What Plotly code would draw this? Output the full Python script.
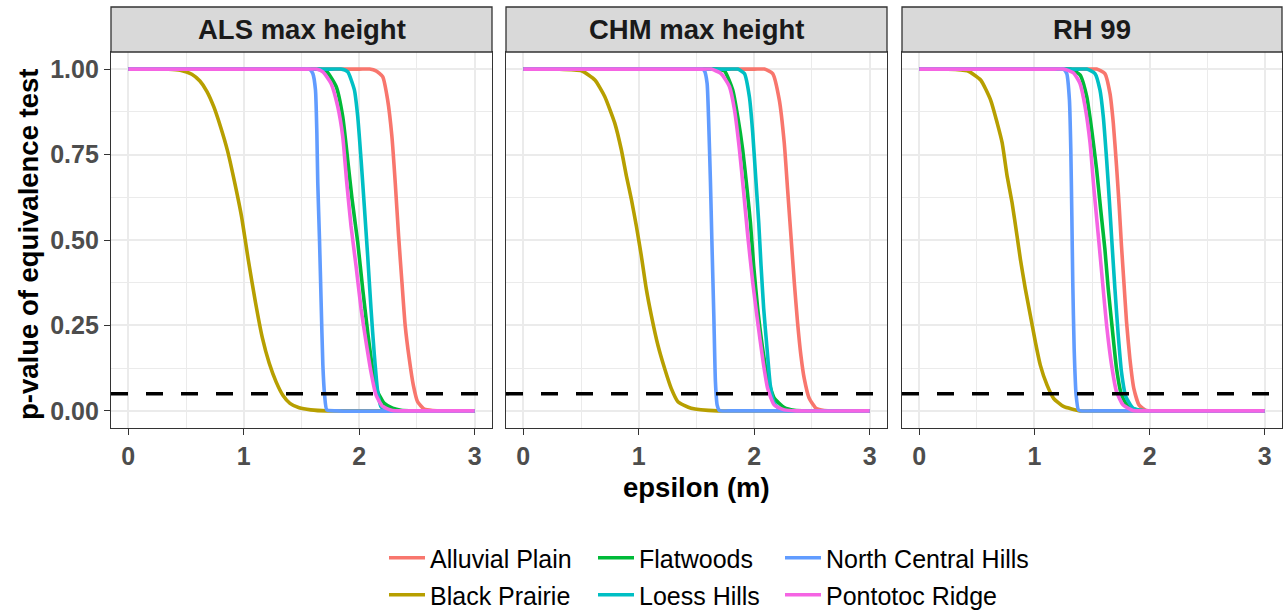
import plotly.graph_objects as go

# ---- panel names and region names -------------------------------------------
PANELS = ["ALS max height", "CHM max height", "RH 99"]
REGIONS = ["Alluvial Plain", "Black Prairie", "Flatwoods",
           "Loess Hills", "North Central Hills", "Pontotoc Ridge"]
COLORS = ["#F8766D", "#B79F00", "#00BA38", "#00BFC4", "#619CFF", "#F564E3"]

X_TICKS = [0, 1, 2, 3]
Y_TICKS = [0.0, 0.25, 0.5, 0.75, 1.0]
ALPHA = 0.05

# ---- ALS max height -----------------------------------------------------------
ALS_ALLUVIAL_EPS = [0, 2.0, 2.09, 2.145, 2.203, 2.246, 2.283, 2.312, 2.341, 2.37, 2.398, 2.433, 2.468, 2.505, 2.563, 2.635, 2.75, 3]
ALS_ALLUVIAL_P = [1, 1, 1, 0.995, 0.978, 0.91, 0.803, 0.667, 0.512, 0.376, 0.25, 0.153, 0.076, 0.027, 0.005, 0.001, 0, 0]
ALS_BLACK_EPS = [0, 0.25, 0.35, 0.45, 0.55, 0.62, 0.68, 0.74, 0.80, 0.86, 0.92, 0.98, 1.04, 1.10, 1.16, 1.22, 1.28, 1.34, 1.40, 1.48, 1.58, 1.72, 1.85, 3]
ALS_BLACK_P = [1, 1, 1, 0.997, 0.985, 0.965, 0.935, 0.89, 0.83, 0.76, 0.67, 0.57, 0.44, 0.32, 0.215, 0.14, 0.085, 0.045, 0.022, 0.009, 0.003, 0, 0, 0]
ALS_FLAT_EPS = [0, 1.56, 1.64, 1.713, 1.8, 1.857, 1.9, 1.938, 1.987, 2.03, 2.073, 2.116, 2.16, 2.217, 2.289, 2.361, 2.47, 3]
ALS_FLAT_P = [1, 1, 1, 0.995, 0.949, 0.861, 0.735, 0.619, 0.493, 0.357, 0.231, 0.124, 0.056, 0.022, 0.008, 0.002, 0, 0]
ALS_LOESS_EPS = [0, 1.76, 1.84, 1.9, 1.958, 1.987, 2.016, 2.044, 2.073, 2.102, 2.131, 2.16, 2.188, 2.232, 2.33, 3]
ALS_LOESS_P = [1, 1, 1, 0.992, 0.939, 0.861, 0.735, 0.599, 0.454, 0.299, 0.163, 0.056, 0.013, 0.001, 0, 0]
ALS_NCH_EPS = [0, 1.5, 1.57, 1.598, 1.621, 1.633, 1.641, 1.656, 1.67, 1.685, 1.70, 1.719, 1.8, 3]
ALS_NCH_P = [1, 1, 1, 0.987, 0.939, 0.813, 0.667, 0.5, 0.318, 0.134, 0.047, 0.003, 0, 0]
ALS_PONT_EPS = [0, 1.55, 1.63, 1.685, 1.756, 1.814, 1.857, 1.892, 1.929, 1.972, 2.016, 2.059, 2.102, 2.145, 2.203, 2.289, 2.39, 3]
ALS_PONT_P = [1, 1, 1, 0.992, 0.958, 0.89, 0.803, 0.667, 0.541, 0.425, 0.299, 0.202, 0.114, 0.047, 0.013, 0.001, 0, 0]

# ---- CHM max height -----------------------------------------------------------
CHM_ALLUVIAL_EPS = [0, 2.0, 2.088, 2.16, 2.217, 2.26, 2.289, 2.318, 2.347, 2.375, 2.404, 2.433, 2.476, 2.534, 2.606, 2.72, 3]
CHM_ALLUVIAL_P = [1, 1, 1, 0.987, 0.91, 0.784, 0.648, 0.512, 0.376, 0.26, 0.163, 0.095, 0.037, 0.008, 0.001, 0, 0]
CHM_BLACK_EPS = [0, 0.2, 0.3, 0.504, 0.62, 0.705, 0.792, 0.849, 0.893, 0.936, 0.979, 1.022, 1.065, 1.109, 1.166, 1.224, 1.281, 1.339, 1.454, 1.684, 1.8, 3]
CHM_BLACK_P = [1, 1, 1, 0.995, 0.968, 0.92, 0.842, 0.764, 0.687, 0.619, 0.541, 0.454, 0.357, 0.279, 0.192, 0.124, 0.066, 0.027, 0.008, 0, 0, 0]
CHM_FLAT_EPS = [0, 1.59, 1.67, 1.742, 1.814, 1.857, 1.9, 1.938, 1.967, 1.995, 2.03, 2.073, 2.116, 2.174, 2.26, 2.347, 2.45, 3]
CHM_FLAT_P = [1, 1, 1, 0.995, 0.939, 0.861, 0.764, 0.648, 0.551, 0.425, 0.299, 0.182, 0.095, 0.037, 0.01, 0.002, 0, 0]
CHM_LOESS_EPS = [0, 1.78, 1.857, 1.915, 1.958, 1.987, 2.016, 2.039, 2.059, 2.082, 2.111, 2.139, 2.174, 2.232, 2.33, 3]
CHM_LOESS_P = [1, 1, 1, 0.987, 0.919, 0.813, 0.667, 0.551, 0.425, 0.299, 0.182, 0.076, 0.022, 0.003, 0, 0]
CHM_NCH_EPS = [0, 1.48, 1.55, 1.569, 1.592, 1.604, 1.621, 1.633, 1.65, 1.664, 1.679, 1.699, 1.78, 3]
CHM_NCH_P = [1, 1, 1, 0.995, 0.958, 0.861, 0.667, 0.5, 0.279, 0.085, 0.017, 0.001, 0, 0]
CHM_PONT_EPS = [0, 1.55, 1.627, 1.713, 1.785, 1.829, 1.872, 1.909, 1.944, 1.987, 2.03, 2.073, 2.116, 2.174, 2.26, 2.36, 3]
CHM_PONT_P = [1, 1, 1, 0.987, 0.949, 0.881, 0.764, 0.638, 0.512, 0.376, 0.26, 0.153, 0.066, 0.017, 0.003, 0, 0]

# ---- RH 99 ----------------------------------------------------------------------
RH_ALLUVIAL_EPS = [0, 1.46, 1.54, 1.612, 1.656, 1.685, 1.713, 1.736, 1.756, 1.777, 1.8, 1.829, 1.863, 1.909, 1.972, 2.07, 3]
RH_ALLUVIAL_P = [1, 1, 1, 0.987, 0.929, 0.842, 0.716, 0.599, 0.483, 0.376, 0.26, 0.153, 0.066, 0.017, 0.001, 0, 0]
RH_BLACK_EPS = [0, 0.15, 0.245, 0.418, 0.533, 0.619, 0.677, 0.72, 0.763, 0.806, 0.849, 0.878, 0.921, 0.965, 1.008, 1.051, 1.109, 1.166, 1.252, 1.396, 1.5, 3]
RH_BLACK_P = [1, 1, 1, 0.995, 0.968, 0.91, 0.842, 0.784, 0.687, 0.609, 0.512, 0.444, 0.357, 0.279, 0.202, 0.134, 0.076, 0.037, 0.013, 0, 0, 0]
RH_FLAT_EPS = [0, 1.23, 1.31, 1.396, 1.454, 1.497, 1.54, 1.575, 1.612, 1.641, 1.679, 1.713, 1.756, 1.814, 1.915, 2.02, 3]
RH_FLAT_P = [1, 1, 1, 0.983, 0.92, 0.823, 0.706, 0.59, 0.473, 0.357, 0.231, 0.124, 0.047, 0.013, 0.001, 0, 0]
RH_LOESS_EPS = [0, 1.38, 1.454, 1.526, 1.569, 1.598, 1.627, 1.65, 1.673, 1.699, 1.728, 1.756, 1.794, 1.857, 1.944, 2.05, 3]
RH_LOESS_P = [1, 1, 1, 0.987, 0.939, 0.861, 0.735, 0.619, 0.493, 0.357, 0.221, 0.114, 0.042, 0.008, 0.001, 0, 0]
RH_NCH_EPS = [0, 1.18, 1.253, 1.281, 1.304, 1.316, 1.325, 1.333, 1.345, 1.362, 1.382, 1.411, 1.5, 3]
RH_NCH_P = [1, 1, 1, 0.987, 0.91, 0.764, 0.57, 0.376, 0.182, 0.047, 0.003, 0, 0, 0]
RH_PONT_EPS = [0, 1.17, 1.253, 1.339, 1.396, 1.44, 1.483, 1.517, 1.555, 1.592, 1.627, 1.67, 1.713, 1.771, 1.857, 1.96, 3]
RH_PONT_P = [1, 1, 1, 0.989, 0.958, 0.89, 0.784, 0.648, 0.512, 0.376, 0.25, 0.134, 0.056, 0.017, 0.001, 0, 0]

CURVES = [
    [(ALS_ALLUVIAL_EPS, ALS_ALLUVIAL_P), (ALS_BLACK_EPS, ALS_BLACK_P), (ALS_FLAT_EPS, ALS_FLAT_P),
     (ALS_LOESS_EPS, ALS_LOESS_P), (ALS_NCH_EPS, ALS_NCH_P), (ALS_PONT_EPS, ALS_PONT_P)],
    [(CHM_ALLUVIAL_EPS, CHM_ALLUVIAL_P), (CHM_BLACK_EPS, CHM_BLACK_P), (CHM_FLAT_EPS, CHM_FLAT_P),
     (CHM_LOESS_EPS, CHM_LOESS_P), (CHM_NCH_EPS, CHM_NCH_P), (CHM_PONT_EPS, CHM_PONT_P)],
    [(RH_ALLUVIAL_EPS, RH_ALLUVIAL_P), (RH_BLACK_EPS, RH_BLACK_P), (RH_FLAT_EPS, RH_FLAT_P),
     (RH_LOESS_EPS, RH_LOESS_P), (RH_NCH_EPS, RH_NCH_P), (RH_PONT_EPS, RH_PONT_P)],
]

# ---- layout geometry ----------------------------------------------------------
W, H = 1285, 613
ML, MR, MT, MB = 111, 3, 7, 185
PW = W - ML - MR
PH = H - MT - MB
DOMAINS = [(0.0, 381 / PW), (395 / PW, 776 / PW), (791 / PW, 1.0)]
PANEL_TOP = (428 - 52) / PH

FONT = "Liberation Sans, Arial, sans-serif"
GRID = "#EBEBEB"
BORDER = "#333333"

fig = go.Figure()

# legend slots: column-major order, 2 rows x 3 columns (pixel positions of the text start)
LEG_TEXT_X = [430, 430, 639, 639, 826, 826]
LEG_Y = [558, 595, 558, 595, 558, 595]
ITEM_W = 36
legend_names = ["legend"] + [f"legend{i}" for i in range(2, 7)]

for p_idx, panel in enumerate(CURVES):
    xa = "x" if p_idx == 0 else f"x{p_idx + 1}"
    ya = "y" if p_idx == 0 else f"y{p_idx + 1}"
    for r_idx, (eps, pv) in enumerate(panel):
        fig.add_trace(go.Scatter(
            x=eps, y=pv, mode="lines", name=REGIONS[r_idx],
            line=dict(color=COLORS[r_idx], width=3.6, shape="spline", smoothing=0.5),
            xaxis=xa, yaxis=ya, legendgroup=REGIONS[r_idx],
            legend=legend_names[r_idx], showlegend=(p_idx == 0),
            hovertemplate="%{x:.2f}, %{y:.3f}<extra>" + REGIONS[r_idx] + "</extra>",
        ))

layout = dict(
    width=W, height=H, autosize=False,
    margin=dict(l=ML, r=MR, t=MT, b=MB, autoexpand=False),
    paper_bgcolor="white", plot_bgcolor="white",
    font=dict(family=FONT),
    shapes=[], annotations=[],
)

for p_idx in range(3):
    xk = "xaxis" if p_idx == 0 else f"xaxis{p_idx + 1}"
    yk = "yaxis" if p_idx == 0 else f"yaxis{p_idx + 1}"
    anchor_y = "y" if p_idx == 0 else f"y{p_idx + 1}"
    anchor_x = "x" if p_idx == 0 else f"x{p_idx + 1}"
    layout[xk] = dict(
        domain=list(DOMAINS[p_idx]), anchor=anchor_y, range=[-0.15, 3.15],
        tickmode="array", tickvals=X_TICKS, ticktext=[str(t) for t in X_TICKS],
        ticks="outside", ticklen=6, tickwidth=1.3, tickcolor=BORDER,
        tickfont=dict(size=25, color="#4D4D4D", family=FONT, weight="bold"),
        showgrid=True, gridcolor=GRID, gridwidth=1.6,
        minor=dict(tickmode="array", tickvals=[0.5, 1.5, 2.5], showgrid=True,
                   gridcolor=GRID, gridwidth=0.8, ticks=""),
        showline=True, linecolor=BORDER, linewidth=1.3, mirror=True,
        zeroline=False, fixedrange=True,
    )
    layout[yk] = dict(
        domain=[0, PANEL_TOP], anchor=anchor_x, range=[-0.05, 1.05],
        tickmode="array", tickvals=Y_TICKS, ticktext=[f"{t:.2f}" for t in Y_TICKS],
        ticks="outside" if p_idx == 0 else "", ticklen=6, tickwidth=1.3, tickcolor=BORDER,
        showticklabels=(p_idx == 0),
        tickfont=dict(size=25, color="#4D4D4D", family=FONT, weight="bold"),
        showgrid=True, gridcolor=GRID, gridwidth=1.6,
        minor=dict(tickmode="array", tickvals=[0.125, 0.375, 0.625, 0.875], showgrid=True,
                   gridcolor=GRID, gridwidth=0.8, ticks=""),
        showline=True, linecolor=BORDER, linewidth=1.3, mirror=True,
        zeroline=False, fixedrange=True,
    )
    if p_idx > 0:
        layout[yk]["matches"] = "y"

    # significance threshold
    layout["shapes"].append(dict(
        type="line", xref=f"{anchor_x} domain", x0=0, x1=1,
        yref=anchor_y, y0=ALPHA, y1=ALPHA,
        line=dict(color="black", width=3.6, dash="17px,18px"), layer="above",
    ))
    # facet strip
    layout["shapes"].append(dict(
        type="rect", xref="paper", yref="paper",
        x0=DOMAINS[p_idx][0], x1=DOMAINS[p_idx][1], y0=PANEL_TOP, y1=1.0,
        fillcolor="#D9D9D9", line=dict(color=BORDER, width=1.3), layer="above",
    ))
    layout["annotations"].append(dict(
        text=f"<b>{PANELS[p_idx]}</b>", xref="paper", yref="paper",
        x=(DOMAINS[p_idx][0] + DOMAINS[p_idx][1]) / 2, y=(PANEL_TOP + 1.0) / 2,
        xanchor="center", yanchor="middle", showarrow=False,
        font=dict(size=27.5, color="#1A1A1A", family=FONT),
    ))

# axis titles
layout["annotations"].append(dict(
    text="<b>epsilon (m)</b>", xref="paper", yref="paper", x=0.5, y=-(487 - 428) / PH,
    xanchor="center", yanchor="middle", showarrow=False,
    font=dict(size=27.5, color="black", family=FONT),
))
layout["annotations"].append(dict(
    text="<b>p-value of equivalence test</b>", xref="paper", yref="paper",
    x=(28 - ML) / PW, y=(428 - 244) / PH, textangle=-90,
    xanchor="center", yanchor="middle", showarrow=False,
    font=dict(size=27.5, color="black", family=FONT),
))

# legends
for i, name in enumerate(legend_names):
    layout[name] = dict(
        x=(LEG_TEXT_X[i] - ITEM_W - 10 - ML) / PW, y=(428 - LEG_Y[i]) / PH,
        xanchor="left", yanchor="middle", orientation="v",
        bgcolor="rgba(0,0,0,0)", borderwidth=0, itemwidth=ITEM_W,
        font=dict(size=25, color="black", family=FONT),
        itemclick=False, itemdoubleclick=False,
    )

fig.update_layout(**layout)
fig.write_html("out.html")
